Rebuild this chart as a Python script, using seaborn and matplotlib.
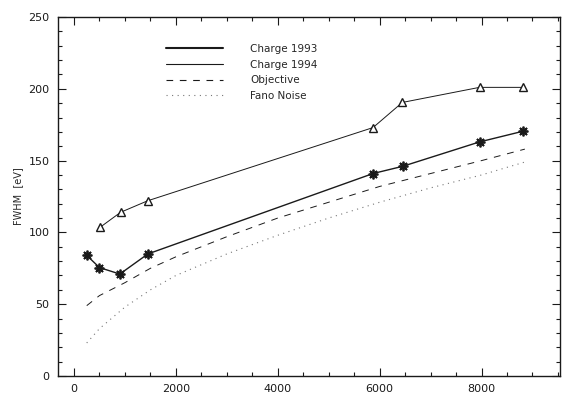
import numpy as np
import pandas as pd
import matplotlib
matplotlib.use("Agg")
import matplotlib.pyplot as plt
from matplotlib.lines import Line2D
from matplotlib.ticker import MultipleLocator
import seaborn as sns

# values
energy_meas = [250, 500, 900, 1450, 5870, 6450, 7960, 8820]
charge_1993 = [84, 75.5, 71, 85, 141, 146, 163, 170.5]
energy_94 = [510, 915, 1445, 5870, 6445, 7960, 8810]
charge_1994 = [103.5, 114, 122, 173, 190.5, 201, 201]
energy_curve = [250, 500, 1000, 1500, 2000, 3000, 4000, 5000, 6000, 7000, 8000, 8850]
objective = [49, 56, 65, 75, 83, 97, 110, 121, 132, 141, 150, 158]
fano = [23, 33, 48, 60, 70, 85, 98, 110, 121, 131, 140, 149]

sns.set_style("ticks")
plt.rcParams['font.family'] = ['DejaVu Sans']

df93 = pd.DataFrame({'E': energy_meas, 'FWHM': charge_1993})
df94 = pd.DataFrame({'E': energy_94, 'FWHM': charge_1994})
dfc = pd.DataFrame({'E': energy_curve, 'obj': objective, 'fano': fano})

fig = plt.figure(figsize=(5.62, 3.97), dpi=100)
ax = fig.add_axes([58/562, 1-376/397, 502/562, 359/397])

ink = '#1a1a1a'
sns.lineplot(data=df93, x='E', y='FWHM', ax=ax, color=ink, lw=1.0,
             marker=(8, 2, 0), markersize=7, markeredgewidth=1.3,
             markeredgecolor=ink, estimator=None, sort=False)
sns.lineplot(data=df94, x='E', y='FWHM', ax=ax, color=ink, lw=0.7,
             marker='^', markersize=5.5, markerfacecolor='white',
             markeredgecolor=ink, markeredgewidth=1.0, estimator=None, sort=False)
sns.lineplot(data=dfc, x='E', y='obj', ax=ax, color=ink, lw=0.7,
             linestyle=(0, (7, 7)), estimator=None)
sns.lineplot(data=dfc, x='E', y='fano', ax=ax, color='#777777', lw=0.8,
             linestyle=(0, (1, 4)), estimator=None)

ax.set_xlim(-314, 9540)
ax.set_ylim(0, 250)
ax.set_xlabel('')
ax.set_ylabel('FWHM  [eV]', fontsize=7, labelpad=4)
ax.xaxis.set_major_locator(MultipleLocator(2000))
ax.xaxis.set_minor_locator(MultipleLocator(500))
ax.yaxis.set_major_locator(MultipleLocator(50))
ax.yaxis.set_minor_locator(MultipleLocator(10))
ax.tick_params(which='both', direction='in', top=True, right=True,
               labelsize=8, colors=ink, width=0.8)
ax.tick_params(which='major', length=6, pad=6)
ax.tick_params(which='minor', length=3)
for s in ax.spines.values():
    s.set_linewidth(1.0)
    s.set_color(ink)

handles = [Line2D([], [], color=ink, lw=1.5),
           Line2D([], [], color=ink, lw=0.8),
           Line2D([], [], color=ink, lw=0.8, linestyle=(0, (6, 6))),
           Line2D([], [], color='#777777', lw=0.8, linestyle=(0, (1, 4)))]
labels = ['Charge 1993', 'Charge 1994', 'Objective', 'Fano Noise']
ax.legend(handles, labels, loc='upper left', bbox_to_anchor=(0.215, 0.925),
          frameon=False, fontsize=7.5, handlelength=5.5, handletextpad=2.6,
          labelspacing=0.55, borderpad=0, borderaxespad=0)

fig.savefig('out.png', dpi=100)
